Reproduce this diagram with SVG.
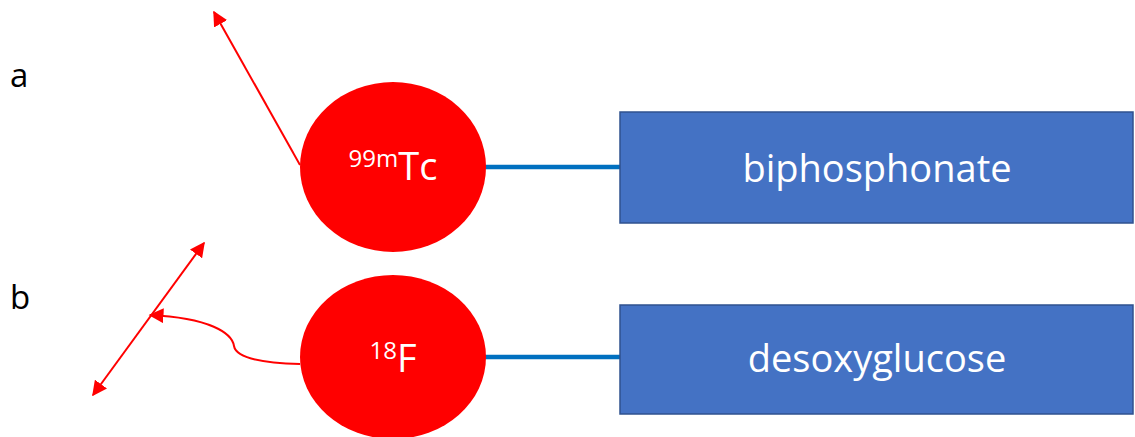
<svg xmlns="http://www.w3.org/2000/svg" width="1135" height="437" viewBox="0 0 1135 437">
<style>
.lbl{font-family:"Open Sans","Liberation Sans",sans-serif;fill:#000;font-size:33px}
.wt{font-family:"Open Sans","Liberation Sans",sans-serif;fill:#fff}
.box{fill:#4472C4;stroke:#2F528F;stroke-width:1.5}
.atom{fill:#FF0000}
.bond{stroke:#0070C0;stroke-width:4.5;fill:none}
.ray{stroke:#FF0000;stroke-width:2;fill:none}
</style>
<defs>
<marker id="ah" viewBox="0 0 10 10" refX="9" refY="5" markerWidth="15" markerHeight="15" markerUnits="userSpaceOnUse" orient="auto-start-reverse">
<path d="M0,0 L10,5 L0,10 Z" fill="#FF0000"/>
</marker>
</defs>
<text class="lbl" x="10" y="87">a</text>
<text class="lbl" x="10" y="309">b</text>
<g id="connectors">
<line class="bond" x1="484" y1="167" x2="620" y2="167"/>
<line class="bond" x1="484" y1="357" x2="620" y2="357"/>
<line class="ray" x1="300" y1="165" x2="214" y2="12" marker-end="url(#ah)"/>
<line class="ray" x1="93" y1="395" x2="204" y2="243" marker-start="url(#ah)" marker-end="url(#ah)"/>
<path class="ray" d="M300,364 C262,363 236,358 234,346 C232,333 210,318 150,315" marker-end="url(#ah)"/>
</g>
<g id="tc">
<ellipse class="atom" cx="393" cy="167" rx="93" ry="85"/>
<text class="wt" x="393" y="180" text-anchor="middle"><tspan font-size="24" dy="-13">99m</tspan><tspan font-size="38" dy="13">Tc</tspan></text>
</g>
<g id="f18">
<ellipse class="atom" cx="393" cy="357" rx="93" ry="82"/>
<text class="wt" x="393" y="372" text-anchor="middle"><tspan font-size="24" dy="-13">18</tspan><tspan font-size="38" dy="13">F</tspan></text>
</g>
<g id="biphosphonate">
<rect class="box" x="620" y="112" width="513" height="111"/>
<text class="wt" x="877" y="182" text-anchor="middle" font-size="38">biphosphonate</text>
</g>
<g id="desoxyglucose">
<rect class="box" x="620" y="305" width="513" height="109"/>
<text class="wt" x="877" y="372" text-anchor="middle" font-size="38">desoxyglucose</text>
</g>
</svg>
